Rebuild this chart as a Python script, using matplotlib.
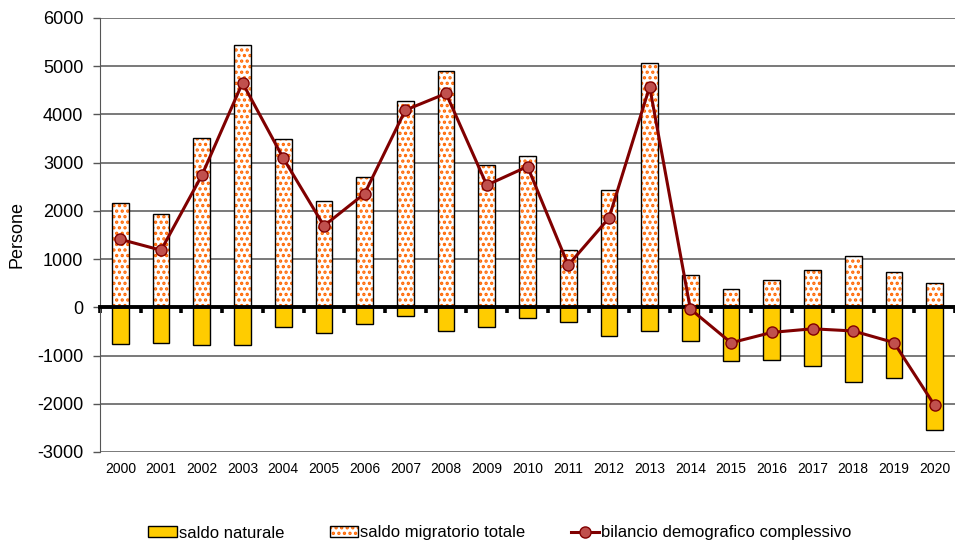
import numpy as np
import matplotlib
matplotlib.use("Agg")
import matplotlib.pyplot as plt
from matplotlib.patches import Patch
from matplotlib.lines import Line2D
from matplotlib.legend_handler import HandlerTuple

plt.rcParams['font.family'] = ['Liberation Sans', 'DejaVu Sans']
plt.rcParams['hatch.linewidth'] = 1.6
plt.rcParams['axes.unicode_minus'] = False

anni = [str(a) for a in range(2000, 2021)]
saldo_migratorio = [2160, 1930, 3510, 5440, 3500, 2210, 2700, 4270, 4910, 2950, 3140,
                    1180, 2430, 5060, 670, 390, 570, 780, 1060, 740, 510]
saldo_naturale = [-750, -745, -780, -785, -410, -525, -340, -180, -490, -410, -225,
                  -310, -585, -500, -695, -1115, -1090, -1215, -1550, -1465, -2545]
bilancio = [1410, 1185, 2735, 4655, 3095, 1690, 2360, 4090, 4435, 2535, 2920,
            875, 1850, 4575, -35, -735, -520, -445, -490, -730, -2035]

giallo = '#FFCC00'
arancio = '#FF6600'
rosso = '#800000'

fig = plt.figure(figsize=(9.55, 5.42), dpi=100)
ax = fig.add_axes([100/955, 1-452/542, 855/955, 434/542])

x = np.arange(len(anni))
w = 0.41

ax.bar(x, saldo_naturale, w, color=giallo, edgecolor='black', linewidth=1, zorder=2)
ax.bar(x, saldo_migratorio, w, color='white', edgecolor=arancio, hatch='...',
       linewidth=0, zorder=2)
ax.bar(x, saldo_migratorio, w, color='none', edgecolor='black', linewidth=1, zorder=2.1)
ax.plot(x, bilancio, color=rosso, linewidth=2.2, marker='o', markersize=8,
        markerfacecolor='#C0504D', markeredgecolor=rosso, markeredgewidth=1, zorder=4)

ax.set_xlim(-0.5, len(anni) - 0.5)
ax.set_ylim(-3000, 6000)
ax.set_yticks(range(-3000, 6001, 1000))
ax.tick_params(axis='y', labelsize=13, length=5, width=1, color='#555555', pad=7)
ax.yaxis.grid(True, color='#555555', linewidth=1.1)
ax.set_axisbelow(True)

for s in ['top', 'right']:
    ax.spines[s].set_visible(False)
ax.spines['left'].set_color('#555555')
ax.spines['bottom'].set_position(('data', 0))
ax.spines['bottom'].set_linewidth(2.8)
ax.spines['bottom'].set_zorder(3)
ax.set_xticks(np.arange(-0.5, len(anni), 1))
ax.tick_params(axis='x', length=4, width=2.6, color='black', labelbottom=False)

for i, a in enumerate(anni):
    ax.text(i, -0.022, a, transform=ax.get_xaxis_transform(), ha='center', va='top',
            fontsize=10)

ax.set_ylabel('Persone', fontsize=13, labelpad=8)

h1 = Patch(facecolor=giallo, edgecolor='black', linewidth=1)
h2a = Patch(facecolor='white', edgecolor=arancio, hatch='...', linewidth=0)
h2b = Patch(facecolor='none', edgecolor='black', linewidth=1)
h3 = Line2D([], [], color=rosso, linewidth=2.2, marker='o', markersize=8,
            markerfacecolor='#C0504D', markeredgecolor=rosso)
fig.legend([h1, (h2a, h2b), h3],
           ['saldo naturale', 'saldo migratorio totale', 'bilancio demografico complessivo'],
           handler_map={tuple: HandlerTuple(ndivide=1, pad=0)},
           loc='center', bbox_to_anchor=(0.5236, 1-533/542), ncol=3, frameon=False,
           fontsize=12, handlelength=1.7, handletextpad=0.15, columnspacing=2.7,
           handleheight=0.6)

fig.savefig('out.png', dpi=100)
